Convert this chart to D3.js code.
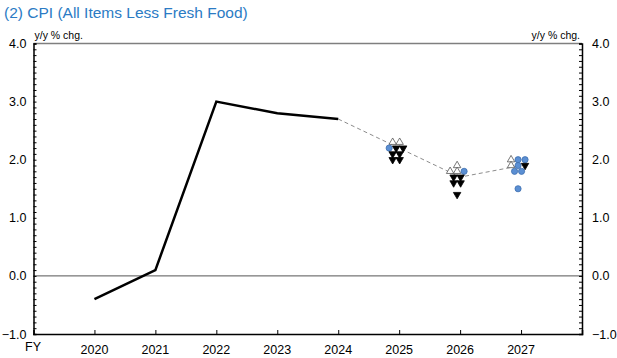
<!DOCTYPE html>
<html>
<head>
<meta charset="utf-8">
<script src="https://cdn.jsdelivr.net/npm/d3@7"></script>
<style>
  body { margin: 0; background: #fff; }
  text { font-family: "Liberation Sans", Arial, sans-serif; }
</style>
</head>
<body>
<script>
// actual values
var actualYears = [2020, 2021, 2022, 2023, 2024];
var actualValues = [-0.4, 0.1, 3.0, 2.8, 2.7];

// median of forecasts (dashed)
var medianYears = [2024, 2025, 2026, 2027];
var medianValues = [2.7, 2.2, 1.7, 1.9];

// policy board members' forecasts by risk assessment
var fcYears = [2025, 2026, 2027];
var upsideRisk = [[2.3, 2.3], [1.9, 1.8, 1.8], [2.0, 1.9]];
var balanced = [[2.2], [1.8], [2.0, 2.0, 1.9, 1.8, 1.8, 1.5]];
var downsideRisk = [[2.2, 2.2, 2.1, 2.1, 2.0, 2.0], [1.7, 1.7, 1.6, 1.6, 1.4], [1.9]];

var yearTicks = [2020, 2021, 2022, 2023, 2024, 2025, 2026, 2027];
var yTicks = [-1, 0, 1, 2, 3, 4];

var W = 617, H = 358;
var margin = { top: 43.5, right: 35, bottom: 24, left: 33.5 };

var svg = d3.select("body").append("svg")
  .attr("width", W)
  .attr("height", H);

var x = d3.scaleLinear().domain([2019, 2028]).range([margin.left, W - margin.right]);
var y = d3.scaleLinear().domain([-1, 4]).range([H - margin.bottom, margin.top]);

var x0 = x.range()[0], x1 = x.range()[1];
var yTop = y.range()[1], yBot = y.range()[0];

// title
svg.append("text")
  .attr("x", 4).attr("y", 17.5)
  .style("font-size", "15.5px")
  .style("fill", "#2b7bc4")
  .text("(2) CPI (All Items Less Fresh Food)");

svg.append("text")
  .attr("x", x0 + 1).attr("y", 39)
  .style("font-size", "10.5px")
  .text("y/y % chg.");
svg.append("text")
  .attr("x", x1 - 2).attr("y", 39)
  .attr("text-anchor", "end")
  .style("font-size", "10.5px")
  .text("y/y % chg.");

// top frame line
svg.append("line")
  .attr("x1", x0).attr("x2", x1)
  .attr("y1", yTop).attr("y2", yTop)
  .attr("stroke", "#7f7f7f").attr("stroke-width", 1.5);

// zero line
svg.append("line")
  .attr("x1", x0).attr("x2", x1)
  .attr("y1", y(0)).attr("y2", y(0))
  .attr("stroke", "#555").attr("stroke-width", 1);

// y axes with minor ticks pointing inward
var minor = d3.range(-10, 41).map(function (d) { return d / 10; });

var leftAxis = svg.append("g")
  .attr("transform", "translate(" + x0 + ",0)")
  .call(d3.axisRight(y).tickValues(minor).tickSize(3).tickFormat(""));
var rightAxis = svg.append("g")
  .attr("transform", "translate(" + x1 + ",0)")
  .call(d3.axisLeft(y).tickValues(minor).tickSize(3).tickFormat(""));
[leftAxis, rightAxis].forEach(function (g) {
  g.select(".domain").attr("stroke", "#000").attr("stroke-width", 1.5);
  g.selectAll(".tick line").attr("stroke", "#000").attr("stroke-width", 1);
});

// y tick labels
svg.selectAll(".ylab-l")
  .data(yTicks)
  .enter().append("text")
  .attr("x", x0 - 7)
  .attr("y", function (d) { return y(d) + 4.5; })
  .attr("text-anchor", "end")
  .style("font-size", "12.5px")
  .text(function (d) { return d3.format(".1f")(d); });
svg.selectAll(".ylab-r")
  .data(yTicks)
  .enter().append("text")
  .attr("x", x1 + 10)
  .attr("y", function (d) { return y(d) + 4.5; })
  .style("font-size", "12.5px")
  .text(function (d) { return d3.format(".1f")(d); });

// bottom axis
var bottomAxis = svg.append("g")
  .attr("transform", "translate(0," + yBot + ")")
  .call(d3.axisTop(x).tickValues(yearTicks).tickSize(4).tickFormat(""));
bottomAxis.select(".domain").attr("stroke", "#000").attr("stroke-width", 1.5);
bottomAxis.selectAll(".tick line").attr("stroke", "#000");

svg.selectAll(".xlab")
  .data(yearTicks)
  .enter().append("text")
  .attr("x", function (d) { return x(d); })
  .attr("y", H - 4)
  .attr("text-anchor", "middle")
  .style("font-size", "12.5px")
  .text(function (d) { return d; });

svg.append("text")
  .attr("x", 25).attr("y", H - 7)
  .style("font-size", "12.5px")
  .text("FY");

// lines
var line = d3.line()
  .x(function (d) { return x(d[0]); })
  .y(function (d) { return y(d[1]); });

svg.append("path")
  .datum(d3.zip(medianYears, medianValues))
  .attr("d", line)
  .attr("fill", "none")
  .attr("stroke", "#8c8c8c")
  .attr("stroke-width", 1)
  .attr("stroke-dasharray", "4,3");

svg.append("path")
  .datum(d3.zip(actualYears, actualValues))
  .attr("d", line)
  .attr("fill", "none")
  .attr("stroke", "#000")
  .attr("stroke-width", 2.5)
  .attr("stroke-linejoin", "miter");

// forecast markers: same values in a row, order up / balanced / down
var gap = 7, shift = -3;
var marks = [];
fcYears.forEach(function (yr, i) {
  var all = [];
  upsideRisk[i].forEach(function (v) { all.push({ yr: yr, v: v, t: "up" }); });
  balanced[i].forEach(function (v) { all.push({ yr: yr, v: v, t: "bal" }); });
  downsideRisk[i].forEach(function (v) { all.push({ yr: yr, v: v, t: "down" }); });
  var rows = d3.group(all, function (d) { return d.v; });
  rows.forEach(function (row) {
    var n = row.length;
    row.forEach(function (d, j) {
      d.dx = shift + (j - (n - 1) / 2) * gap;
      marks.push(d);
    });
  });
});

var tri = d3.symbol().type(d3.symbolTriangle).size(24);
var circ = d3.symbol().type(d3.symbolCircle).size(30);

svg.selectAll(".mark")
  .data(marks)
  .enter().append("path")
  .attr("class", "mark")
  .attr("d", function (d) { return d.t === "bal" ? circ() : tri(); })
  .attr("transform", function (d) {
    var t = "translate(" + (x(d.yr) + d.dx) + "," + y(d.v) + ")";
    return d.t === "down" ? t + " rotate(180)" : t;
  })
  .attr("fill", function (d) {
    return d.t === "up" ? "#fff" : d.t === "down" ? "#000" : "#5b8fd3";
  })
  .attr("stroke", function (d) {
    return d.t === "up" ? "#555" : d.t === "down" ? "#000" : "#3e6fae";
  })
  .attr("stroke-width", 0.8);
</script>
</body>
</html>
